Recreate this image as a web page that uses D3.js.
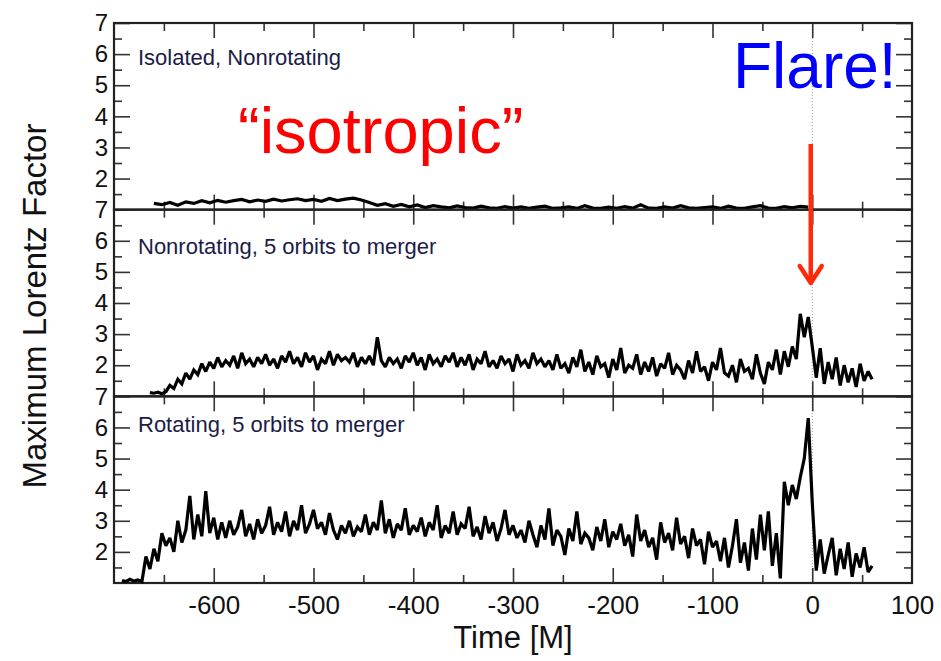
<!DOCTYPE html>
<html>
<head>
<meta charset="utf-8">
<script src="https://cdn.jsdelivr.net/npm/d3@7"></script>
<style>
  body {
    margin: 0;
    background-color: #fff;
  }
  svg text {
    font-family: "Liberation Sans", Arial, Helvetica, sans-serif;
  }
</style>
</head>
<body>
<div id="chart"></div>
<script>

// panel titles, top to bottom
const panelTitles = ["Isolated, Nonrotating", "Nonrotating, 5 orbits to merger", "Rotating, 5 orbits to merger"];

// isolated, nonrotating: sampled every 8 M starting at -660 M
const isoStart = -660, isoStep = 8;
const isoValues = [
  1.20, 1.16, 1.23, 1.14, 1.25, 1.20, 1.29, 1.22, 1.30, 1.24, 1.29, 1.33, 1.25, 1.31, 1.27, 1.34, 1.28, 1.32, 1.35, 1.29,
  1.33, 1.27, 1.36, 1.29, 1.34, 1.37, 1.31,
  1.23, 1.14, 1.19, 1.11, 1.17, 1.09, 1.15, 1.07, 1.13, 1.09, 1.06, 1.12, 1.07, 1.05, 1.11, 1.06, 1.04, 1.10, 1.05, 1.09,
  1.04, 1.08, 1.11, 1.04, 1.06, 1.09, 1.04, 1.13, 1.05, 1.04, 1.08, 1.04, 1.10, 1.05, 1.16, 1.05, 1.04, 1.09, 1.05, 1.13,
  1.06, 1.04, 1.07, 1.09, 1.04, 1.11, 1.05, 1.04, 1.09, 1.13, 1.05, 1.04, 1.10, 1.06, 1.11, 1.08
];

// nonrotating, 5 orbits to merger: every 4 M starting at -664 M
const nonrotStart = -664, nonrotStep = 4;
const nonrotValues = [
  1.12, 1.10, 1.13, 1.08, 1.15, 1.35, 1.25, 1.55, 1.40, 1.75, 1.55, 1.85, 1.70, 2.05, 1.80, 2.10, 1.90, 2.25, 1.95, 2.15, 2.00, 2.30, 1.90, 2.40, 2.05,
  2.20, 1.95, 2.25, 2.05, 2.35, 2.00, 2.20, 1.90, 2.30, 2.10, 2.45, 2.05, 2.25, 1.95, 2.40, 2.10, 2.30, 1.85, 2.20, 2.05, 2.45, 2.00, 2.35, 2.15, 2.25,
  2.10, 2.40, 1.95, 2.25, 2.05, 2.30, 2.00, 2.90, 2.15, 1.95, 2.25, 2.05, 2.20, 1.90, 2.30, 2.10, 2.40, 2.00, 2.25, 1.85, 2.35, 2.05, 2.20, 1.95, 2.30,
  2.10, 2.40, 1.95, 2.25, 2.00, 2.35, 1.85, 2.20, 2.05, 2.45, 1.95, 2.15, 1.90, 2.30, 2.05, 2.20, 1.80, 2.35, 2.00, 2.15, 1.90, 2.40, 2.05, 2.20, 1.95,
  2.15, 1.85, 2.35, 1.90, 2.05, 1.75, 2.25, 1.95, 2.50, 1.80, 2.10, 1.70, 2.30, 1.95, 2.05, 1.60, 2.20, 1.85, 2.55, 1.75, 2.00, 1.90, 2.35, 1.70, 2.10,
  1.80, 2.25, 1.65, 2.05, 1.90, 2.40, 1.70, 2.00, 1.85, 1.55, 2.15, 1.75, 2.45, 1.80, 1.95, 1.50, 2.10, 1.85, 2.55, 1.75, 1.65, 2.00, 1.45, 2.20, 1.80,
  1.90, 1.55, 2.35, 1.75, 1.40, 2.10, 1.85, 2.50, 1.70, 2.45, 1.95, 2.60, 2.20, 3.65, 2.90, 3.55, 2.60, 1.60, 2.55, 1.40, 2.10, 1.55, 2.25, 1.35, 2.00,
  1.45, 1.90, 1.30, 2.05, 1.50, 1.80, 1.55
];

// rotating, 5 orbits to merger: every 4 M starting at -692 M
const rotStart = -692, rotStep = 4;
const rotValues = [
  1.08, 1.05, 1.12, 1.06, 1.10, 1.05, 1.85, 1.45, 2.10, 1.70, 2.60, 2.20, 2.45, 2.00, 3.00, 2.30, 2.70, 3.80, 2.40, 3.20, 2.50, 3.95, 2.60, 3.10, 2.40,
  2.95, 2.45, 3.00, 2.55, 2.80, 3.35, 2.50, 2.90, 2.40, 3.05, 2.60, 2.85, 3.45, 2.55, 2.95, 2.65, 3.30, 2.50, 3.00, 2.70, 3.50, 2.60, 2.90, 3.35, 2.75,
  2.95, 2.55, 3.25, 2.70, 2.40, 2.85, 2.60, 3.00, 2.50, 2.80, 2.65, 3.20, 2.55, 2.95, 2.70, 3.65, 2.60, 3.05, 2.45, 2.90, 2.70, 3.40, 2.55, 2.85, 2.65,
  3.10, 2.50, 2.95, 2.70, 3.50, 2.45, 2.85, 2.60, 3.30, 2.55, 2.90, 2.75, 3.45, 2.50, 2.80, 2.40, 3.15, 2.60, 2.95, 2.35, 2.75, 3.35, 2.55, 2.85, 2.45,
  2.70, 2.30, 3.00, 2.55, 2.15, 2.85, 2.40, 3.40, 2.20, 2.70, 2.50, 1.90, 2.75, 2.35, 3.30, 2.25, 2.60, 2.45, 2.05, 2.80, 2.35, 3.05, 2.15, 2.65, 2.40,
  2.90, 2.20, 2.55, 1.85, 3.20, 2.35, 2.70, 2.15, 2.45, 1.75, 2.95, 2.30, 2.60, 2.05, 3.10, 2.25, 2.50, 1.80, 2.75, 2.20, 2.40, 1.60, 2.65, 2.15, 2.35,
  1.70, 2.45, 1.50, 2.20, 3.05, 1.65, 2.30, 1.40, 2.75, 1.75, 3.20, 2.05, 3.30, 1.55, 2.60, 1.15, 4.25, 3.50, 4.15, 3.70, 4.40, 5.00, 6.30, 3.60, 1.40,
  2.40, 1.30, 1.90, 2.45, 1.25, 2.10, 1.45, 2.30, 1.20, 1.95, 1.50, 2.15, 1.35, 1.55
];

// axis ticks
const xMajorTicks = [-600, -500, -400, -300, -200, -100, 0];
const xMinorTicks = [-650, -550, -450, -350, -250, -150, -50, 50];
const xLabelTicks = [-600, -500, -400, -300, -200, -100, 0, 100];
const yMajorTicks = [2, 3, 4, 5, 6, 7];
const yMinorTicks = [1.5, 2.5, 3.5, 4.5, 5.5, 6.5];

const width = 941;
const height = 661;
const plot = { left: 114, right: 912, top: 23, bottom: 583 };
const panelH = (plot.bottom - plot.top) / 3;

const svg = d3
  .select("#chart")
  .append("svg")
  .attr("width", width)
  .attr("height", height);

const xScale = d3.scaleLinear().domain([-700, 100]).range([plot.left, plot.right]);

const series = [
  isoValues.map((v, i) => ({ t: isoStart + i * isoStep, v: v })),
  nonrotValues.map((v, i) => ({ t: nonrotStart + i * nonrotStep, v: v })),
  rotValues.map((v, i) => ({ t: rotStart + i * rotStep, v: v }))
];

function styleTicks(g) {
  g.select(".domain").remove();
  g.selectAll(".tick line").attr("stroke", "#333").attr("stroke-width", 1.6);
}

// dotted line at merger time
svg.append("line")
  .attr("x1", xScale(0)).attr("x2", xScale(0))
  .attr("y1", plot.top).attr("y2", plot.bottom)
  .attr("stroke", "#999")
  .attr("stroke-width", 1)
  .attr("stroke-dasharray", "1,2");

series.forEach((data, i) => {
  const top = plot.top + i * panelH;
  const bottom = top + panelH;
  const yScale = d3.scaleLinear().domain([1, 7]).range([bottom, top]);
  const g = svg.append("g");

  // y ticks, left side with labels
  g.append("g")
    .attr("transform", `translate(${plot.left},0)`)
    .call(d3.axisLeft(yScale).tickValues(yMajorTicks).tickSizeInner(-16).tickSizeOuter(0).tickPadding(6).tickFormat(d => String(d)))
    .call(styleTicks)
    .call(a => a.selectAll("text").attr("font-size", 24).attr("fill", "#111").attr("font-family", null));
  g.append("g")
    .attr("transform", `translate(${plot.left},0)`)
    .call(d3.axisLeft(yScale).tickValues(yMinorTicks).tickSizeInner(-8).tickSizeOuter(0).tickFormat(""))
    .call(styleTicks);
  // y ticks, right side
  g.append("g")
    .attr("transform", `translate(${plot.right},0)`)
    .call(d3.axisRight(yScale).tickValues(yMajorTicks).tickSizeInner(-16).tickSizeOuter(0).tickFormat(""))
    .call(styleTicks);
  g.append("g")
    .attr("transform", `translate(${plot.right},0)`)
    .call(d3.axisRight(yScale).tickValues(yMinorTicks).tickSizeInner(-8).tickSizeOuter(0).tickFormat(""))
    .call(styleTicks);

  // x ticks on top and bottom edges of each panel
  g.append("g")
    .attr("transform", `translate(0,${top})`)
    .call(d3.axisTop(xScale).tickValues(xMajorTicks).tickSizeInner(-15).tickSizeOuter(0).tickFormat(""))
    .call(styleTicks);
  g.append("g")
    .attr("transform", `translate(0,${top})`)
    .call(d3.axisTop(xScale).tickValues(xMinorTicks).tickSizeInner(-8).tickSizeOuter(0).tickFormat(""))
    .call(styleTicks);
  g.append("g")
    .attr("transform", `translate(0,${bottom})`)
    .call(d3.axisBottom(xScale).tickValues(xMajorTicks).tickSizeInner(-15).tickSizeOuter(0).tickFormat(""))
    .call(styleTicks);
  g.append("g")
    .attr("transform", `translate(0,${bottom})`)
    .call(d3.axisBottom(xScale).tickValues(xMinorTicks).tickSizeInner(-8).tickSizeOuter(0).tickFormat(""))
    .call(styleTicks);

  // panel frame
  g.append("rect")
    .attr("x", plot.left)
    .attr("y", top)
    .attr("width", plot.right - plot.left)
    .attr("height", panelH)
    .attr("fill", "none")
    .attr("stroke", "#222")
    .attr("stroke-width", 2.2);

  // panel title
  g.append("text")
    .attr("x", 138)
    .attr("y", [65, 254, 432][i])
    .attr("font-size", 22)
    .attr("fill", "#1c1c48")
    .text(panelTitles[i]);

  // data
  g.append("path")
    .datum(data)
    .attr("fill", "none")
    .attr("stroke", "#000")
    .attr("stroke-width", 3.2)
    .attr("stroke-miterlimit", 2)
    .attr("d", d3.line().x(d => xScale(d.t)).y(d => yScale(d.v)));
});

// x tick labels under the bottom panel
svg.append("g")
  .attr("transform", `translate(0,${plot.bottom})`)
  .call(d3.axisBottom(xScale).tickValues(xLabelTicks).tickSize(0).tickPadding(13).tickFormat(d => String(d)))
  .call(a => a.select(".domain").remove())
  .call(a => a.selectAll("text").attr("font-size", 26).attr("fill", "#111").attr("font-family", null));

// axis titles
svg.append("text")
  .attr("x", (plot.left + plot.right) / 2)
  .attr("y", 648)
  .attr("text-anchor", "middle")
  .attr("font-size", 31)
  .attr("fill", "#111")
  .text("Time [M]");

svg.append("text")
  .attr("transform", "translate(46,306) rotate(-90)")
  .attr("text-anchor", "middle")
  .attr("font-size", 33)
  .attr("fill", "#111")
  .text("Maximum Lorentz Factor");

// annotations
svg.append("text")
  .attr("x", 238)
  .attr("y", 153)
  .attr("font-size", 65)
  .attr("fill", "#ff0000")
  .text("\u201Cisotropic\u201D");

svg.append("text")
  .attr("x", 733)
  .attr("y", 88)
  .attr("font-size", 64)
  .attr("fill", "#0000ff")
  .text("Flare!");

const arrowX = xScale(-1.5);
svg.append("line")
  .attr("x1", arrowX).attr("x2", arrowX)
  .attr("y1", 144).attr("y2", 282)
  .attr("stroke", "#ff2a0a")
  .attr("stroke-width", 4.5);
svg.append("path")
  .attr("d", `M${arrowX - 11},${266} L${arrowX},${283} L${arrowX + 11},${266}`)
  .attr("fill", "none")
  .attr("stroke", "#ff2a0a")
  .attr("stroke-width", 4.5)
  .attr("stroke-linecap", "round")
  .attr("stroke-linejoin", "round");

</script>
</body>
</html>
